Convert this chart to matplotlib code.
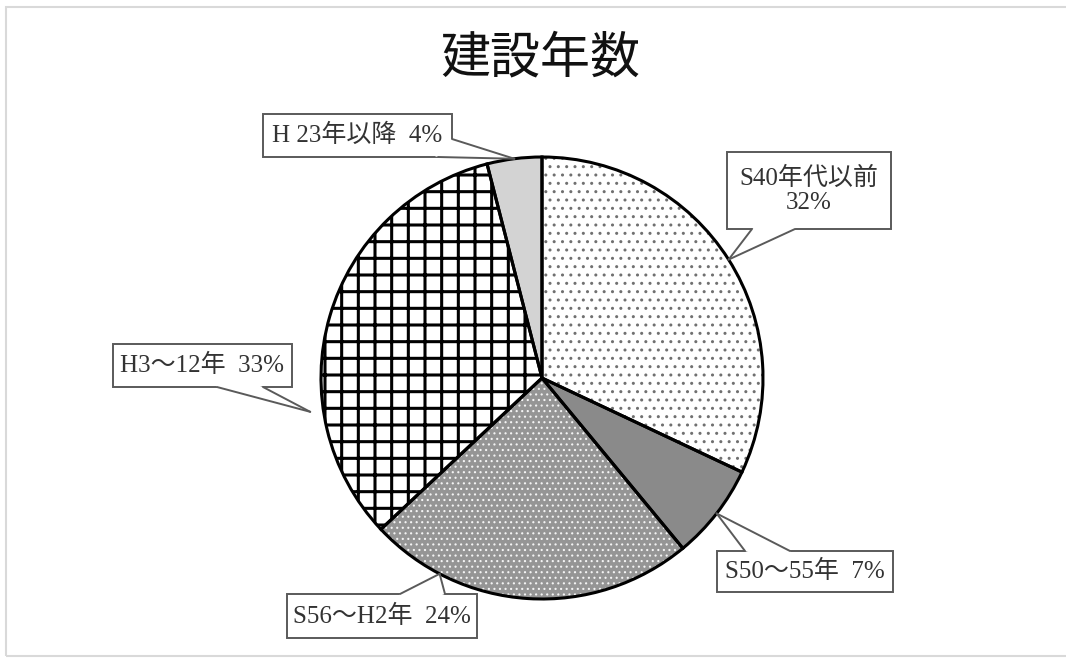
import numpy as np
import matplotlib.pyplot as plt
from matplotlib.patches import Rectangle, Polygon

plt.rcParams['font.family'] = ['Liberation Serif', 'Noto Sans CJK JP']
plt.rcParams['hatch.linewidth'] = 1.0

# construction period shares (%), clockwise from 12 o'clock
labels = ['S40年代以前\n32%', 'S50～55年  7%', 'S56～H2年  24%', 'H3～12年  33%', 'H 23年以降  4%']
shares = [32, 7, 24, 33, 4]

faces = ['white', '#8a8a8a', '#959595', 'white', '#d3d3d3']
hatches = ['..', None, '...', '+', None]
hatch_colors = ['#707070', 'none', '#f4f4f4', 'black', 'none']
hatch_widths = [1.0, 1.0, 0.8, 2.2, 1.0]

W, H = 1066, 659
fig = plt.figure(figsize=(W / 100, H / 100), dpi=100)
ax = fig.add_axes([0, 0, 1, 1])

cx, cy, r = 542, H - 378, 221

# fill layer (hatches take the edge colour, so outlines are drawn separately)
wedges, _ = ax.pie(shares, startangle=90, counterclock=False, center=(cx, cy),
                   radius=r, colors=faces, wedgeprops=dict(linewidth=0))
for w, h, hc, hw in zip(wedges, hatches, hatch_colors, hatch_widths):
    if h:
        w.set_hatch(h)
        w.set_edgecolor(hc)
        if hasattr(w, 'set_hatch_linewidth'):
            w.set_hatch_linewidth(hw)

# black outlines
ax.pie(shares, startangle=90, counterclock=False, center=(cx, cy), radius=r,
       wedgeprops=dict(fill=False, edgecolor='black', linewidth=2.2))

ax.set_xlim(0, W)
ax.set_ylim(0, H)
ax.axis('off')

# callout boxes: (left, top, right, bottom) in px from top-left,
# tail base points, angle offset from wedge middle, tip radius factor
callouts = [
    ((727, 152, 891, 229), ((752, 229), (795, 229)), 0, 1.0),
    ((717, 551, 893, 592), ((745, 551), (790, 551)), 0, 1.0),
    ((287, 594, 477, 638), ((400, 594), (445, 594)), -24, 1.0),
    ((113, 344, 292, 387), ((217, 387), (263, 387)), 24.5, 1.06),
    ((263, 114, 452, 157), ((452, 139), (438, 157)), 0, 1.0),
]

box_color = '#5a5a5a'
for w, text, (box, base, offset, rf) in zip(wedges, labels, callouts):
    x0, t, x1, b = box
    ax.add_patch(Rectangle((x0, H - b), x1 - x0, b - t, facecolor='white',
                           edgecolor=box_color, linewidth=1.4, zorder=5))
    ang = np.deg2rad((w.theta1 + w.theta2) / 2 + offset)
    tip = (cx + rf * r * np.cos(ang), cy + rf * r * np.sin(ang))
    bx = (x0 + x1) / 2
    by = H - (t + b) / 2
    pts = [(px, H - py) for px, py in base]
    inner = []
    for px, py in pts:
        d = np.array([bx - px, by - py])
        d = d / np.linalg.norm(d) * 3
        inner.append((px + d[0], py + d[1]))
    ax.add_patch(Polygon([inner[0], pts[0], tip, pts[1], inner[1]],
                         facecolor='white', edgecolor='none', zorder=6))
    for p in pts:
        ax.plot([p[0], tip[0]], [p[1], tip[1]], color=box_color, lw=1.4,
                zorder=7, solid_capstyle='round')
    ax.text(bx, by, text, ha='center', va='center', fontsize=18,
            linespacing=1.1, color='#333333', zorder=8)

ax.text(540, H - 58, '建設年数', ha='center', va='center', fontsize=36,
        family=['Noto Sans CJK JP'], color='#111111')

# thin frame around the chart area
ax.add_patch(Rectangle((6, H - 656), 1080, 649, fill=False,
                       edgecolor='#d9d9d9', linewidth=1.5, clip_on=False))

fig.savefig('out.png', dpi=100)
